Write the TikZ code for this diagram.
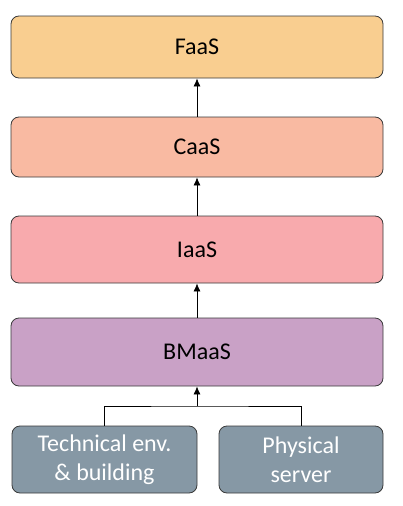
\documentclass[tikz,border=0pt]{standalone}
\usepackage{fontspec}
\setmainfont{Carlito}
\usepackage{tikz}
\usetikzlibrary{arrows.meta,positioning}

\definecolor{faascol}{HTML}{F9CE90}
\definecolor{caascol}{HTML}{F9BAA2}
\definecolor{iaascol}{HTML}{F8AAAD}
\definecolor{bmcol}{HTML}{C9A1C6}
\definecolor{basecol}{HTML}{8698A5}
\definecolor{edgecol}{HTML}{3A3A3A}

\begin{document}
\begin{tikzpicture}[x=1pt,y=-1pt]
				\tikzstyle{every node}=[draw=edgecol,line width=0.8pt,rectangle,rounded corners=8pt,font=\fontsize{24}{29}\selectfont,align=center]
				\tikzstyle{layer}=[minimum width=372pt,inner sep=0pt]
				\tikzstyle{base}=[fill=basecol,text=white,minimum height=67pt,inner sep=0pt]
				\tikzstyle{up}=[-{Latex[length=8pt,width=7pt]},line width=0.7pt]
				
				\useasboundingbox (0,0) rectangle (402,506);
				
				\node[layer,fill=faascol,minimum height=62pt] (faas) at (197,47) {FaaS};
				\node[layer,fill=caascol,minimum height=60pt] (caas) at (197,147) {CaaS};
				\node[layer,fill=iaascol,minimum height=67pt] (iaas) at (197,249.5) {IaaS};
				\node[layer,fill=bmcol,minimum height=68pt] (bmaas) at (197,352) {BMaaS};
				
				\node[base,minimum width=185pt] (tech) at (104.5,459.5) {Technical env.\\\& building};
				\node[base,minimum width=164pt] (phys) at (301,459.5) {Physical\\server};
				
				\coordinate (fork) at (197,406);
				
				\draw[up] (bmaas) -- (iaas);
				\draw[up] (iaas) -- (caas);
				\draw[up] (caas) -- (faas);
				\draw[line width=0.7pt] (tech.north) |- (fork) -| (phys.north);
				\draw[up] (fork) -- (bmaas);
				
				\end{tikzpicture}
\end{document}
